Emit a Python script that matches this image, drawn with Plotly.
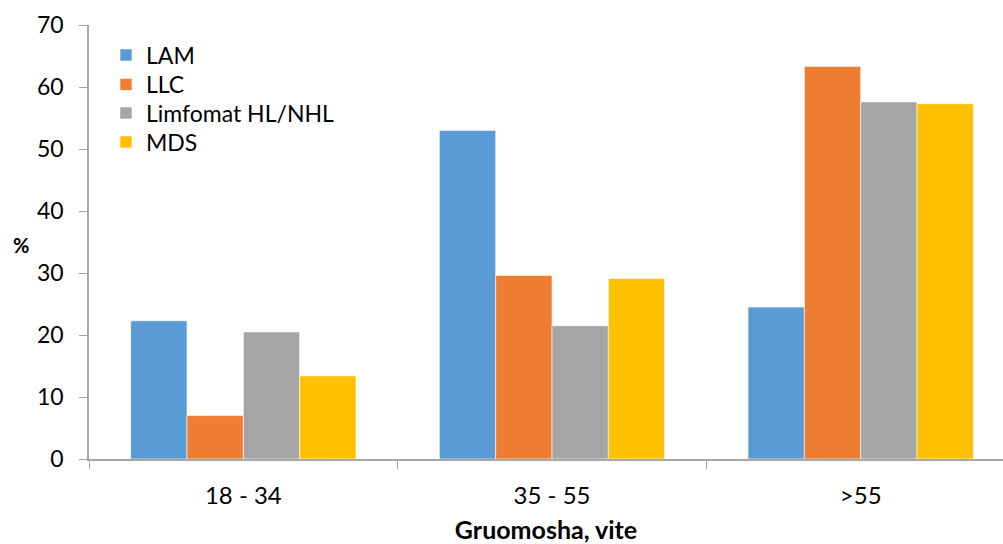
import plotly.graph_objects as go

categories = ["18 - 34", "35 - 55", ">55"]
series_names = ["LAM", "LLC", "Limfomat HL/NHL", "MDS"]
lam = [22.3, 53.0, 24.5]
llc = [7.0, 29.6, 63.3]
limfomat = [20.5, 21.5, 57.6]
mds = [13.4, 29.1, 57.3]
colors = ["#5B9BD5", "#ED7D31", "#A5A5A5", "#FFC000"]
y_ticks = [0, 10, 20, 30, 40, 50, 60, 70]

FONT = "Lato, Carlito, Calibri, sans-serif"
FS = 23

# plot area in pixels
L, T, W, H = 89, 25, 914, 434
legend_ids = ["legend", "legend2", "legend3", "legend4"]
legend_rows_px = [55, 84.5, 113, 142]  # vertical centre of each legend row

fig = go.Figure()
for name, vals, col, lid in zip(series_names, [lam, llc, limfomat, mds], colors, legend_ids):
    fig.add_trace(go.Bar(x=categories, y=vals, name=name, legend=lid,
                         marker=dict(color=col, line=dict(color="white", width=0.6))))

layout_legends = {}
for lid, ypx in zip(legend_ids, legend_rows_px):
    layout_legends[lid] = dict(
        x=(106 - L) / W, y=(T + H - ypx) / H, xanchor="left", yanchor="middle",
        font=dict(size=FS, family=FONT), bgcolor="rgba(0,0,0,0)",
        itemwidth=30, borderwidth=0)

fig.update_layout(
    width=1003, height=544,
    margin=dict(l=L, r=0, t=T, b=544 - T - H),
    paper_bgcolor="white", plot_bgcolor="white",
    barmode="group", bargap=0.27, bargroupgap=0,
    font=dict(family=FONT, size=FS, color="#000000"),
    showlegend=True,
    xaxis=dict(range=[-0.5, 2.461], showline=True, linecolor="#A6A6A6", linewidth=1.5,
               ticks="outside", tickson="boundaries", ticklen=8, tickcolor="#A6A6A6",
               tickfont=dict(size=24), showgrid=False, zeroline=False,
               ticklabelstandoff=14,
               title=dict(text="<b>Gruomosha, vite</b>", font=dict(size=25), standoff=18)),
    yaxis=dict(range=[0, 70], tickvals=y_ticks, showline=True, linecolor="#A6A6A6", linewidth=1.5,
               ticks="outside", ticklen=8, tickcolor="#A6A6A6", tickfont=dict(size=FS),
               ticklabelstandoff=11,
               showgrid=False, zeroline=False),
    **layout_legends,
)
fig.add_annotation(text="<b>%</b>", xref="paper", yref="paper",
                   x=(21 - L) / W, y=(T + H - 245) / H, xanchor="center", yanchor="middle",
                   showarrow=False, font=dict(size=FS - 3))
fig.write_html("out.html")
